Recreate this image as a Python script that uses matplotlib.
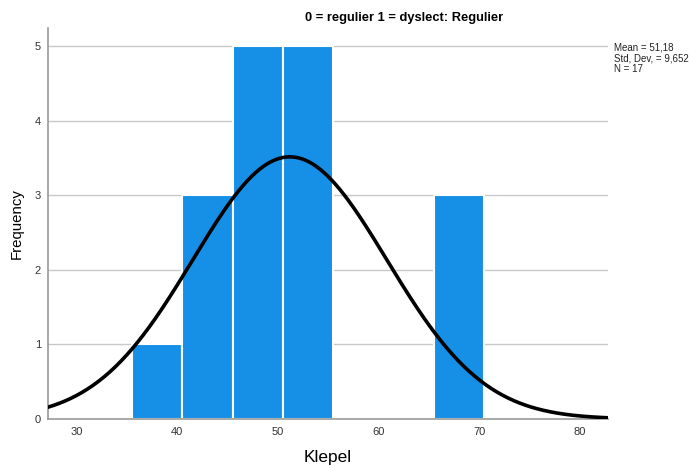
import numpy as np
import matplotlib
matplotlib.use("Agg")
import matplotlib.pyplot as plt

# Histogram bins (width 5) and counts for Klepel, group Regulier
bin_edges = [35.5, 40.5, 45.5, 50.5, 55.5, 60.5, 65.5, 70.5]
counts = [1, 3, 5, 5, 0, 0, 3]
mean = 51.18
std_dev = 9.652
n = 17
title = "0 = regulier 1 = dyslect: Regulier"
x_ticks = [30, 40, 50, 60, 70, 80]
y_ticks = [0, 1, 2, 3, 4, 5]

plt.rcParams["font.family"] = ["Liberation Sans", "DejaVu Sans"]

fig = plt.figure(figsize=(6.98, 4.69), dpi=100)
ax = fig.add_axes([48 / 698, 1 - 419 / 469, 560 / 698, 391 / 469])

ax.set_xlim(27.15, 82.8)
ax.set_ylim(0, 5.24)

for y in y_ticks[1:]:
    ax.axhline(y, color="#c8c8c8", lw=1.0, zorder=0)

lefts = np.array(bin_edges[:-1])
widths = np.diff(bin_edges)
ax.bar(lefts, counts, width=widths, align="edge", color="#1590e6",
       edgecolor="white", linewidth=1.5, zorder=2)

xs = np.linspace(27.15, 82.8, 400)
bw = bin_edges[1] - bin_edges[0]
ys = n * bw / (std_dev * np.sqrt(2 * np.pi)) * np.exp(-0.5 * ((xs - mean) / std_dev) ** 2)
ax.plot(xs, ys, color="black", lw=2.6, zorder=3, solid_capstyle="round")

ax.set_xticks(x_ticks)
ax.set_yticks(y_ticks)
ax.tick_params(axis="both", length=0, labelsize=8, colors="#333333", pad=6)
ax.tick_params(axis="y", pad=5)
for s in ["top", "right"]:
    ax.spines[s].set_visible(False)
for s in ["left", "bottom"]:
    ax.spines[s].set_color("#999999")
    ax.spines[s].set_linewidth(1.2)

ax.set_xlabel("Klepel", fontsize=12.5, labelpad=9, fontweight="medium")
ax.set_ylabel("Frequency", fontsize=10.8, labelpad=8, fontweight="medium")

fig.text(404 / 698, 1 - 18 / 469, title, ha="center", va="center",
         fontsize=9.3, fontweight="bold", fontstretch="condensed")

stats = f"Mean = {mean:.2f}".replace(".", ",") + "\n" + \
        f"Std. Dev. = {std_dev:.3f}".replace(".", ",") + "\n" + f"N = {n}"
fig.text(614 / 698, 1 - 43 / 469, stats, ha="left", va="top",
         fontsize=7, linespacing=1.05, color="#222222")

fig.savefig("out.png", dpi=100)
